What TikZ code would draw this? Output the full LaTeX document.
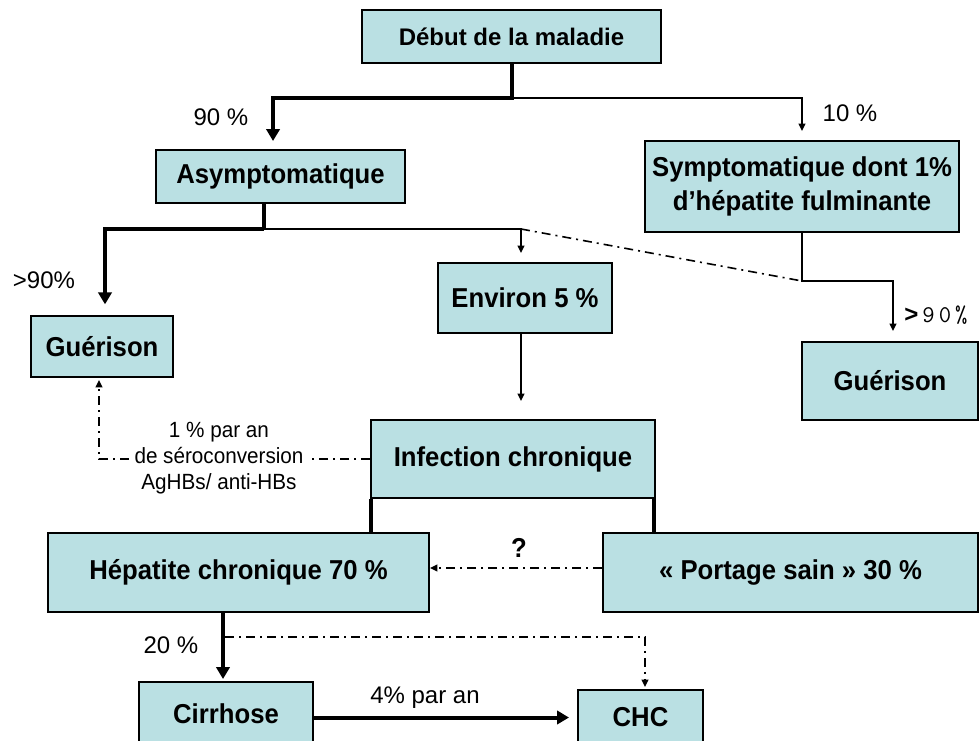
\documentclass[tikz,border=0pt]{standalone}
\usepackage{fontspec}
\setmainfont{Liberation Sans}
\newfontfamily\boxfont{Liberation Sans}[FakeStretch=0.94]
\usetikzlibrary{arrows.meta,calc}
\definecolor{boxfill}{RGB}{186,224,227}
\begin{document}
\begin{tikzpicture}[x=0.75pt,y=-0.75pt,
  box/.style={draw=black,line width=1.5pt,fill=boxfill,inner sep=0pt,align=center,font=\boxfont\bfseries\fontsize{20.5}{25}\selectfont},
  thickline/.style={line width=3pt},
  thinline/.style={line width=1.2pt},
  dashdot/.style={line width=1.2pt,dash pattern=on 6.75pt off 3.75pt on 1.5pt off 3.75pt},
  bigtip/.style={-{Triangle[width=10pt,length=9pt]}},
  smalltip/.style={-{Triangle[width=5pt,length=5.5pt]}},
  lbl/.style={font=\fontsize{18}{21}\selectfont,inner sep=0pt}
]
\fill[white] (0,0) rectangle (980,740);
\useasboundingbox (0,0) rectangle (980,740);

% boxes
\node[box,minimum width=224.25pt,minimum height=39.75pt,font=\bfseries\fontsize{18}{22}\selectfont] (deb) at (511.5,36.5) {Début de la maladie};
\node[box,minimum width=186.75pt,minimum height=39.75pt] (asy) at (280.5,176.5) {Asymptomatique};
\node[box,minimum width=235.5pt,minimum height=68.25pt] (sym) at (802,186.5) {Symptomatique dont 1\%\\d’hépatite fulminante};
\node[box,minimum width=106.5pt,minimum height=45.75pt] (gl) at (102,346.5) {Guérison};
\node[box,minimum width=130.5pt,minimum height=52.5pt] (env) at (525,298) {Environ 5 \%};
\node[box,minimum width=132pt,minimum height=58.5pt] (gr) at (890,381) {Guérison};
\node[box,minimum width=213pt,minimum height=58.5pt] (inf) at (513,459) {Infection chronique};
\node[box,minimum width=285.75pt,minimum height=59.25pt] (hep) at (238.5,572.5) {Hépatite chronique 70 \%};
\node[box,minimum width=281.25pt,minimum height=59.25pt] (por) at (790.5,572.5) {« Portage sain » 30 \%};
\node[box,minimum width=130.5pt,minimum height=47.25pt] (cir) at (226,713.5) {Cirrhose};
\node[box,minimum width=93.75pt,minimum height=41.25pt] (chc) at (640.5,717.5) {CHC};

% labels
\node[lbl] (l90) at (221,117) {90 \%};
\node[lbl] (l10) at (850,113) {10 \%};
\node[lbl] (lg90) at (44,280) {>90\%};
\node[lbl] (lr90) at (936,315) {\textbf{>}\,{\ttfamily 9\,0\,\%}};
\node[lbl] (l20) at (171,645) {20 \%};
\node[lbl] (l4) at (425,698) {4\% par an};
\node[font=\boxfont\bfseries\fontsize{20.5}{22}\selectfont,inner sep=0pt] (q) at (519,548) {?};
\node[lbl,font=\boxfont\fontsize{16.5}{19.5}\selectfont,align=center] (sero) at (219,458) {1 \% par an\\de séroconversion\\AgHBs/ anti-HBs};

% connectors
\coordinate (d1) at (511.5,98);
\draw[thickline,bigtip] (deb.south) -- (d1) -| ([xshift=-5.6pt,yshift=6pt]asy.north);
\draw[thinline,smalltip] (d1) -| ([yshift=6.75pt]sym.north);

\coordinate (a1) at (264,229);
\coordinate (a2) at (521,229);
\draw[thickline] (asy.south -| a1) -- (a1);
\draw[thickline,bigtip] (a1) -| ([xshift=2.25pt,yshift=8pt]gl.north);
\draw[thinline,smalltip] (a1) -| ([xshift=-3pt,yshift=6.75pt]env.north);

\coordinate (s1) at (802,281);
\draw[dashdot] (a2) -- (s1);
\draw[thinline,smalltip] (sym.south) -- (s1) -| ([xshift=2.25pt,yshift=7.5pt]gr.north);

\draw[thinline,smalltip] ([xshift=-3pt]env.south) -- ([xshift=6pt,yshift=13.5pt]inf.north);

\draw[thickline] ([xshift=1pt]inf.south west) -- ([xshift=1pt]inf.south west |- hep.north);
\draw[thickline] ([xshift=-1.5pt]inf.south east) -- ([xshift=-1.5pt]inf.south east |- por.north);

\draw[dashdot,smalltip] ([yshift=3.4pt]por.west) -- ([yshift=3.4pt]hep.east);

\draw[dashdot] (inf.west) -- ([xshift=4pt]sero.east |- inf.west);
\draw[dashdot,smalltip] ([xshift=-4pt]sero.west |- inf.west) -| ([xshift=-2.25pt,yshift=-1.5pt]gl.south);

\coordinate (h1) at (225,637);
\draw[thickline,bigtip] ([xshift=-11.625pt]hep.south) -- ([xshift=-2.25pt,yshift=1.5pt]cir.north);
\draw[dashdot,smalltip] (h1) -| ([xshift=3.4pt,yshift=1.5pt]chc.north);
\draw[thickline,bigtip] (cir.east |- chc.west) -- ([xshift=-6pt]chc.west);
\end{tikzpicture}
\end{document}
